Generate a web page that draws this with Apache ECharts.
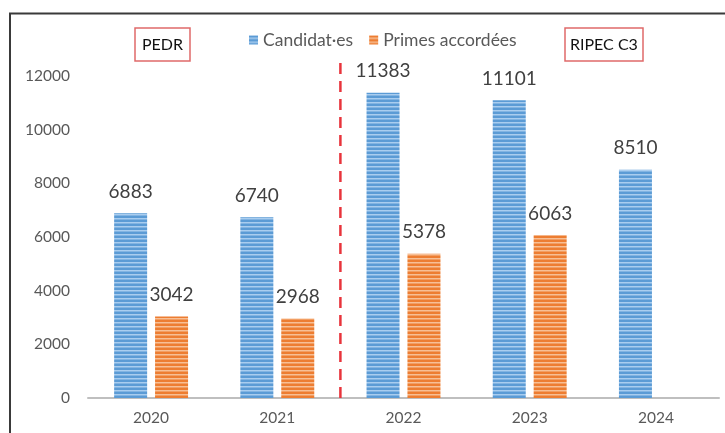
<!DOCTYPE html>
<html>
<head>
<meta charset="utf-8">
<script src="https://cdn.jsdelivr.net/npm/echarts@6/dist/echarts.min.js"></script>
<style>
  html, body { margin: 0; padding: 0; background: #fff; }
  #chart { width: 725px; height: 433px; }
</style>
</head>
<body>
<div id="chart"></div>
<script>
// données
const years = ['2020', '2021', '2022', '2023', '2024'];
const candidats = [6883, 6740, 11383, 11101, 8510];
const primes = [3042, 2968, 5378, 6063, null];
const yTicks = [0, 2000, 4000, 6000, 8000, 10000, 12000];
// séparation PEDR / RIPEC entre 2021 et 2022 (frontière de catégorie)
const separation = 2;

// motif à rayures horizontales pour imiter le remplissage Excel
function stripes(base, light) {
  const c = document.createElement('canvas');
  c.width = 4;
  c.height = 4;
  const ctx = c.getContext('2d');
  ctx.fillStyle = base;
  ctx.fillRect(0, 0, 4, 4);
  ctx.fillStyle = light;
  ctx.fillRect(0, 2, 4, 1.5);
  return { image: c, repeat: 'repeat' };
}

const font = 'Lato, "Open Sans", sans-serif';
const myChart = echarts.init(document.getElementById('chart'));

const boxText = { fontSize: 16, fontWeight: 'normal', color: '#111', fontFamily: font };

const option = {
  animation: false,
  textStyle: { fontFamily: font },
  title: [
    {
      text: 'PEDR', left: 135, top: 28,
      padding: [9, 7, 8, 7],
      borderColor: '#e06a6a', borderWidth: 1.5,
      textStyle: boxText
    },
    {
      text: 'RIPEC C3', left: 565, top: 28,
      padding: [9, 5, 8, 5],
      borderColor: '#e06a6a', borderWidth: 1.5,
      textStyle: boxText
    }
  ],
  legend: {
    top: 26,
    left: 244,
    icon: 'rect',
    itemWidth: 9,
    itemHeight: 9,
    itemGap: 16,
    textStyle: { fontSize: 17.5, color: '#595959', fontFamily: font },
    data: ['Candidat·es', 'Primes accordées']
  },
  graphic: [
    {
      type: 'polyline',
      shape: { points: [[10, 440], [10, 13.5], [730, 13.5]] },
      style: { stroke: '#3a3a3a', lineWidth: 2, fill: null }
    }
  ],
  grid: { left: 88, right: 6, top: 60, bottom: 35 },
  xAxis: [
    {
      type: 'category',
      data: years,
      axisLine: { lineStyle: { color: '#bfbfbf', width: 2 } },
      axisTick: { show: false },
      axisLabel: { color: '#595959', fontSize: 15.5, margin: 12 }
    },
    { type: 'value', min: 0, max: years.length, show: false }
  ],
  yAxis: {
    type: 'value',
    min: 0,
    max: 12600,
    interval: 2000,
    splitLine: { show: false },
    axisLine: { show: false },
    axisTick: { show: false },
    axisLabel: {
      color: '#595959', fontSize: 15.5, margin: 18, showMaxLabel: false,
      formatter: function (v) { return yTicks.indexOf(v) >= 0 ? String(v) : ''; }
    }
  },
  series: [
    {
      name: 'Candidat·es',
      type: 'bar',
      barWidth: 33,
      barGap: '24%',
      itemStyle: { color: stripes('#5b9bd5', '#a9cdef') },
      label: { show: true, position: 'top', distance: 12, fontSize: 19, color: '#404040', fontFamily: font },
      data: candidats
    },
    {
      name: 'Primes accordées',
      type: 'bar',
      barWidth: 33,
      itemStyle: { color: stripes('#ed7d31', '#f7bf95') },
      label: { show: true, position: 'top', distance: 12, fontSize: 19, color: '#404040', fontFamily: font },
      data: primes
    },
    {
      name: 'separation',
      type: 'line',
      xAxisIndex: 1,
      symbol: 'none',
      silent: true,
      lineStyle: { color: '#e8343c', width: 2.5, type: [11, 7] },
      data: [[separation, 0], [separation, 12600]]
    }
  ]
};

myChart.setOption(option);
window.addEventListener('resize', function () {
  myChart.resize();
});
</script>
</body>
</html>
